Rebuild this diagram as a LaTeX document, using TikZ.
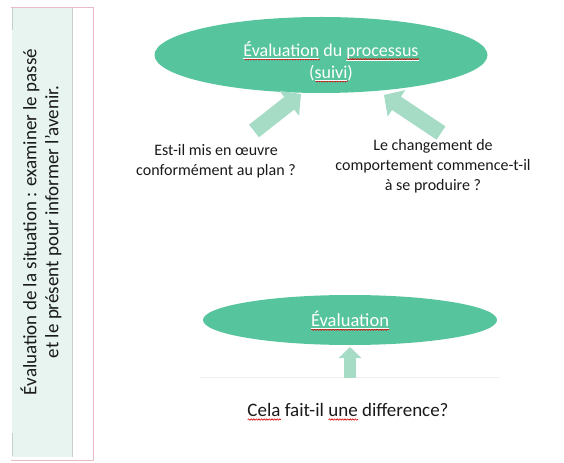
\documentclass[tikz,border=0pt]{standalone}
\usepackage{fontspec}
\setmainfont{Carlito}
\usetikzlibrary{arrows.meta,shapes.geometric,decorations.pathmorphing}
\definecolor{ell}{RGB}{86,196,156}
\definecolor{arr}{RGB}{166,220,198}
\definecolor{panel}{RGB}{231,244,240}
\definecolor{pinkb}{RGB}{234,186,198}
\definecolor{grayb}{RGB}{200,206,204}
\newsavebox{\sqbox}
\newlength{\sqlen}
\newcommand{\squigline}{\leavevmode\smash{\rlap{\raisebox{-4bp}{\tikz[x=1bp,y=1bp]{\draw[red!85!black, line width=0.6bp, decorate, decoration={snake, amplitude=0.7bp, segment length=2.6bp}] (0,0) -- (\sqlen,0);}}}}}
\newcommand{\sqw}[1]{\sbox{\sqbox}{\underline{#1}}\setlength{\sqlen}{\wd\sqbox}\squigline\usebox{\sqbox}}
\newcommand{\sqb}[1]{\sbox{\sqbox}{#1}\setlength{\sqlen}{\wd\sqbox}\squigline\usebox{\sqbox}}
\tikzset{
  oval/.style={ellipse, fill=ell, inner sep=0pt, text=white, align=center,
    font=\fontsize{18bp}{22bp}\selectfont},
  question/.style={align=center, inner sep=0pt, text=black!90,
    font=\fontsize{16bp}{20bp}\selectfont},
  bigarrow/.style={draw=arr, line width=16bp, -{Triangle[length=15bp,width=31bp]}},
  smallarrow/.style={draw=arr, line width=12bp, -{Triangle[length=11bp,width=22bp]}},
}
\begin{document}
\begin{tikzpicture}[x=1bp,y=-1bp]
\useasboundingbox (0,0) rectangle (564,463);
% left panel
\fill[panel] (12,8) rectangle (72,457);
\draw[pinkb, line width=1bp] (11,8) -- (93.5,8) -- (93.5,460) -- (11,460);
\draw[grayb, line width=1bp] (12,8) -- (12,30) (12,433) -- (12,456);
\draw[grayb, line width=0.8bp] (72,8) -- (72,457);
\node[rotate=90, align=center, inner sep=0pt, text=black!90,
  font=\fontsize{19bp}{22bp}\selectfont] (side) at (41,222)
  {Évaluation de la situation : examiner le passé\\et le présent pour informer l'avenir.};
% top ellipse
\node[oval, minimum width=333bp, minimum height=76bp] (top) at (321,55) {};
\node[align=center, text=white, inner sep=0pt, font=\fontsize{18bp}{22bp}\selectfont]
  (toptext) at (331,61) {\sqw{Évaluation} du \sqw{processus}\\(\sqw{suivi})};
% questions
\node[question] (q1) at (216,161) {Est-il mis en œuvre\\conformément au plan ?};
\node[question] (q2) at (433,166) {Le changement de\\comportement commence-t-il\\à se produire ?};
\coordinate (a1s) at (254,131);
\coordinate (a1t) at (301,94);
\coordinate (a2s) at (441,133);
\coordinate (a2t) at (384,95);
\draw[bigarrow] (a1s) -- (a1t);
\draw[bigarrow] (a2s) -- (a2t);
% bottom ellipse
\node[oval, minimum width=294bp, minimum height=50bp, font=\fontsize{18.5bp}{22bp}\selectfont] (bot) at (350,320)
  {\sqw{Évaluation}};
\draw[black!6, line width=0.8bp] (200,377) -- (500,377);
\coordinate (a3s) at (350,378);
\coordinate (a3t) at (350,347);
\draw[smallarrow] (a3s) -- (a3t);
\node[question, font=\fontsize{19bp}{22bp}\selectfont] (q3) at (348,410)
  {\sqb{Cela} fait-il \sqb{une} difference?};
\end{tikzpicture}
\end{document}
